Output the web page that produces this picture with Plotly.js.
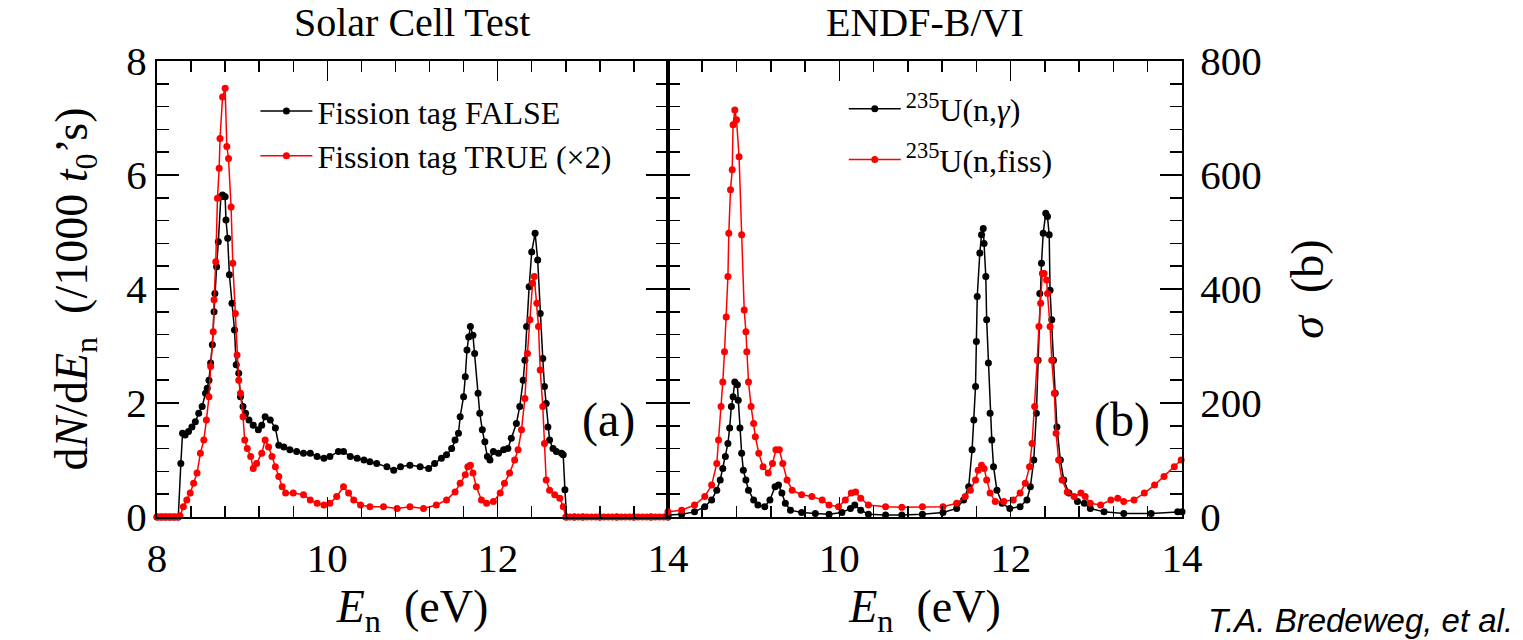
<!DOCTYPE html>
<html>
<head>
<meta charset="utf-8">
<script src="https://cdn.plot.ly/plotly-3.0.1.min.js"></script>
<style>html,body{margin:0;padding:0;background:#fff;}#chart{width:1523px;height:640px;}</style>
</head>
<body>
<div id="chart"></div>
<script>
// ---- Panel (a): Solar Cell Test ----
const falseE = [8.00,8.05,8.10,8.15,8.20,8.25,8.28,8.30,8.33,8.37,8.41,8.45,8.49,8.53,8.57,8.59,8.61,8.63,8.65,8.67,8.68,8.70,8.72,8.75,8.77,8.80,8.81,8.83,8.85,8.88,8.91,8.93,8.96,8.98,9.01,9.04,9.08,9.13,9.19,9.23,9.27,9.33,9.39,9.43,9.49,9.56,9.64,9.72,9.80,9.88,9.96,10.03,10.13,10.19,10.27,10.35,10.43,10.50,10.58,10.70,10.78,10.86,10.97,11.09,11.19,11.26,11.34,11.40,11.46,11.50,11.54,11.56,11.60,11.62,11.64,11.66,11.68,11.71,11.73,11.77,11.79,11.82,11.85,11.88,11.91,11.95,12.01,12.07,12.12,12.16,12.22,12.26,12.30,12.32,12.34,12.37,12.40,12.44,12.47,12.50,12.53,12.55,12.57,12.59,12.61,12.65,12.69,12.75,12.77,12.79,12.81,12.90,13.00,13.20,13.40,13.60,13.80,14.00];
const falseY = [0,0,0,0,0,0,0.94,1.47,1.44,1.50,1.58,1.67,1.82,1.94,2.17,2.26,2.40,2.70,3.02,3.60,3.92,4.39,4.83,5.62,5.65,5.62,5.21,4.89,4.25,3.75,3.28,2.67,2.52,2.11,1.94,1.82,1.70,1.61,1.53,1.61,1.76,1.70,1.56,1.26,1.23,1.18,1.15,1.12,1.12,1.06,1.03,1.06,1.15,1.15,1.06,1.03,1.00,0.97,0.94,0.88,0.82,0.88,0.91,0.88,0.85,0.94,1.03,1.09,1.20,1.35,1.47,1.76,2.11,2.46,2.93,3.16,3.34,3.19,2.87,2.17,1.82,1.53,1.32,1.06,1.00,1.15,1.12,1.18,1.20,1.38,1.64,1.94,2.40,2.75,3.34,4.04,4.65,4.98,4.51,3.57,2.78,2.29,1.99,1.58,1.35,1.20,1.15,1.12,1.09,0.48,0,0,0,0,0,0,0,0];

const trueE = [8.000,8.025,8.050,8.075,8.100,8.125,8.150,8.175,8.200,8.225,8.250,8.27,8.31,8.35,8.39,8.43,8.47,8.51,8.55,8.58,8.61,8.63,8.66,8.67,8.69,8.71,8.73,8.74,8.77,8.80,8.82,8.84,8.87,8.89,8.92,8.94,8.96,8.98,9.01,9.03,9.06,9.10,9.13,9.17,9.23,9.27,9.31,9.35,9.39,9.43,9.47,9.51,9.60,9.72,9.80,9.88,9.96,10.03,10.11,10.19,10.25,10.31,10.39,10.50,10.66,10.82,10.97,11.13,11.28,11.40,11.50,11.56,11.62,11.65,11.68,11.71,11.75,11.81,11.87,11.95,12.03,12.08,12.14,12.20,12.24,12.28,12.32,12.35,12.38,12.41,12.43,12.46,12.48,12.50,12.53,12.55,12.57,12.61,12.67,12.73,12.77,12.80,12.85,12.90,12.95,13.00,13.05,13.10,13.15,13.20,13.25,13.30,13.35,13.40,13.45,13.50,13.55,13.60,13.65,13.70,13.75,13.80,13.85,13.90,13.95,14.00];
const trueY = [0,0,0,0,0,0,0,0,0,0,0,0.02,0.18,0.30,0.42,0.59,0.77,1.12,1.35,1.70,2.11,2.64,3.25,3.81,4.48,5.59,6.12,6.64,7.37,7.52,6.50,6.29,5.44,4.45,3.57,2.84,2.40,2.17,1.76,1.35,1.20,1.06,0.85,0.94,1.12,1.35,1.23,1.06,0.88,0.71,0.53,0.42,0.42,0.39,0.30,0.24,0.21,0.24,0.36,0.53,0.42,0.30,0.21,0.18,0.18,0.15,0.18,0.15,0.21,0.30,0.44,0.59,0.74,0.88,0.91,0.77,0.53,0.30,0.24,0.27,0.42,0.59,0.77,1.00,1.18,1.53,2.08,2.87,3.46,4.10,4.22,3.75,3.34,2.58,1.94,1.29,0.65,0.47,0.39,0.33,0.18,0,0,0,0,0,0,0,0,0,0,0,0,0,0,0,0,0,0,0,0,0,0,0,0,0];

// ---- Panel (b): ENDF-B/VI cross sections (barn) ----
const gammaE = [8.00,8.16,8.31,8.43,8.51,8.57,8.61,8.64,8.67,8.70,8.72,8.74,8.76,8.78,8.81,8.82,8.84,8.86,8.88,8.91,8.94,9.00,9.05,9.13,9.19,9.25,9.29,9.33,9.37,9.43,9.56,9.72,9.88,10.03,10.13,10.18,10.25,10.34,10.54,10.73,10.97,11.21,11.37,11.45,11.51,11.55,11.57,11.59,11.60,11.61,11.64,11.66,11.68,11.69,11.71,11.72,11.74,11.76,11.78,11.80,11.84,11.90,11.99,12.11,12.19,12.23,12.27,12.30,12.32,12.34,12.36,12.38,12.41,12.43,12.45,12.46,12.48,12.50,12.52,12.54,12.58,12.62,12.68,12.78,12.86,12.93,13.09,13.32,13.64,13.95,14.00];
const gammaY = [3.5,5,9,18,30,47,65,85,106,129,156,194,211,237,232,205,156,112,82,65,47,30,21,18,30,53,56,42,24,12,8,6,5,8,15,21,12,5,3.5,3.5,5,8,15,30,53,118,170,229,308,387,463,495,506,480,422,346,270,182,135,88,47,24,15,18,30,53,100,182,275,392,445,498,533,527,495,398,346,275,217,158,100,65,42,27,24,15,9,6,6,9,9];

const fissE = [8.00,8.16,8.31,8.43,8.51,8.57,8.59,8.62,8.64,8.66,8.68,8.70,8.71,8.73,8.75,8.76,8.78,8.80,8.83,8.86,8.89,8.91,8.92,8.94,8.97,9.00,9.02,9.06,9.11,9.17,9.22,9.26,9.30,9.34,9.39,9.45,9.56,9.68,9.80,9.88,9.99,10.07,10.14,10.19,10.25,10.34,10.54,10.73,10.97,11.21,11.37,11.47,11.53,11.59,11.62,11.66,11.69,11.72,11.76,11.82,11.92,12.03,12.11,12.17,12.22,12.25,12.28,12.31,12.33,12.35,12.37,12.39,12.42,12.43,12.46,12.48,12.51,12.53,12.56,12.60,12.66,12.74,12.82,12.87,12.93,13.05,13.17,13.25,13.32,13.44,13.56,13.68,13.79,13.91,13.99];
const fissY = [9,12,21,36,56,94,135,194,237,290,351,422,498,574,609,688,714,697,632,495,363,325,290,237,194,164,141,112,88,77,94,118,118,94,65,47,39,36,30,21,18,30,42,44,33,21,18,17,18,18,24,36,47,65,82,91,85,65,42,27,27,30,42,59,88,129,194,275,334,375,427,427,416,392,334,275,217,147,100,65,44,36,42,36,24,21,30,33,27,30,42,56,71,88,100];

const xTickVals = [8,10,12,14];
const xTickTextA = ['8','10','12','14'];
const xTickTextB = ['','10','12','14'];

const SERIF = "Liberation Serif, Times New Roman, Times, serif";
const SANS = "Liberation Sans, Arial, Helvetica, sans-serif";

function series(x, y, color, name, xa, ya, leg, grp) {
  return {
    x: x, y: y, type: 'scatter', mode: 'lines+markers', name: name,
    xaxis: xa, yaxis: ya, legend: leg, legendgroup: grp, cliponaxis: false,
    line: {color: color, width: 1.5},
    marker: {color: color, size: 7, symbol: 'circle'}
  };
}

const data = [
  series(falseE, falseY, '#000000', 'Fission tag FALSE', 'x', 'y', 'legend', 'a1'),
  series(trueE, trueY, '#ff0000', 'Fission tag TRUE (\u00d72)', 'x', 'y', 'legend', 'a2'),
  series(gammaE, gammaY, '#000000', '<sup>235</sup>U(n,<i>\u03b3</i>)', 'x2', 'y2', 'legend2', 'b1'),
  series(fissE, fissY, '#ff0000', '<sup>235</sup>U(n,fiss)', 'x2', 'y2', 'legend2', 'b2')
];

function xAxis(domain, anchor, ticktext) {
  return {
    domain: domain, anchor: anchor, range: [8, 14],
    tickmode: 'array', tickvals: xTickVals, ticktext: ticktext,
    ticks: 'inside', ticklen: 20, tickwidth: 1.5, tickcolor: '#000',
    minor: {tickmode: 'linear', tick0: 8, dtick: 0.4, ticks: 'inside', ticklen: 11, tickwidth: 1.5, tickcolor: '#000'},
    showline: true, linecolor: '#000', linewidth: 2, mirror: 'ticks',
    showgrid: false, zeroline: false,
    tickfont: {family: SERIF, size: 41, color: '#000'},
    ticklabelstandoff: 4,
    title: {text: '<i>E</i><sub>n</sub>  (eV)', font: {family: SERIF, size: 46, color: '#000'}, standoff: 10}
  };
}

const layout = {
  width: 1523, height: 640,
  paper_bgcolor: '#fff', plot_bgcolor: '#fff',
  margin: {l: 157, r: 341, t: 61, b: 123},
  showlegend: true,
  xaxis: xAxis([0, 0.4985], 'y', xTickTextA),
  xaxis2: xAxis([0.4985, 1], 'y2', xTickTextB),
  yaxis: {
    domain: [0, 1], anchor: 'x', range: [0, 8], dtick: 2, tick0: 0,
    ticks: 'inside', ticklen: 22, tickwidth: 1.5, tickcolor: '#000',
    minor: {tickmode: 'linear', tick0: 0, dtick: 0.4, ticks: 'inside', ticklen: 12, tickwidth: 1.5, tickcolor: '#000'},
    showline: true, linecolor: '#000', linewidth: 2, mirror: 'ticks',
    showgrid: false, zeroline: false,
    tickfont: {family: SERIF, size: 41, color: '#000'},
    ticklabelstandoff: 0,
    title: {text: 'd<i>N</i>/d<i>E</i><sub>n</sub>  (/1000 <i>t</i><sub>0</sub>\u2019s)', font: {family: SERIF, size: 46, color: '#000'}, standoff: 24}
  },
  yaxis2: {
    domain: [0, 1], anchor: 'x2', side: 'right', range: [0, 800], dtick: 200, tick0: 0,
    ticks: 'inside', ticklen: 22, tickwidth: 1.5, tickcolor: '#000',
    minor: {tickmode: 'linear', tick0: 0, dtick: 40, ticks: 'inside', ticklen: 12, tickwidth: 1.5, tickcolor: '#000'},
    showline: true, linecolor: '#000', linewidth: 2, mirror: 'ticks',
    showgrid: false, zeroline: false,
    tickfont: {family: SERIF, size: 41, color: '#000'},
    ticklabelstandoff: 8,
    title: {text: '<i>\u03c3</i>  (b)', font: {family: SERIF, size: 46, color: '#000'}, standoff: 30}
  },
  legend: {
    x: 0.096, y: 0.95, xref: 'paper', yref: 'paper', xanchor: 'left', yanchor: 'top',
    bgcolor: 'rgba(0,0,0,0)', borderwidth: 0, traceorder: 'normal',
    font: {family: SERIF, size: 32, color: '#000'}, itemwidth: 52, tracegroupgap: 0
  },
  legend2: {
    x: 0.67, y: 0.955, xref: 'paper', yref: 'paper', xanchor: 'left', yanchor: 'top',
    bgcolor: 'rgba(0,0,0,0)', borderwidth: 0, traceorder: 'grouped',
    font: {family: SERIF, size: 32, color: '#000'}, itemwidth: 52, tracegroupgap: 6
  },
  annotations: [
    {text: 'Solar Cell Test', xref: 'paper', yref: 'paper', x: 0.2488, y: 1.0855, xanchor: 'center', yanchor: 'middle', showarrow: false, font: {family: SERIF, size: 40, color: '#000'}},
    {text: 'ENDF-B/VI', xref: 'paper', yref: 'paper', x: 0.749, y: 1.0855, xanchor: 'center', yanchor: 'middle', showarrow: false, font: {family: SERIF, size: 40, color: '#000'}},
    {text: '(a)', xref: 'paper', yref: 'paper', x: 0.44, y: 0.2127, xanchor: 'center', yanchor: 'middle', showarrow: false, font: {family: SERIF, size: 48, color: '#000'}},
    {text: '(b)', xref: 'paper', yref: 'paper', x: 0.9415, y: 0.2127, xanchor: 'center', yanchor: 'middle', showarrow: false, font: {family: SERIF, size: 48, color: '#000'}},
    {text: '<i>T.A. Bredeweg, et al.</i>', xref: 'paper', yref: 'paper', x: 1.3249, y: -0.2259, xanchor: 'right', yanchor: 'middle', showarrow: false, font: {family: SANS, size: 33, color: '#000'}}
  ]
};

Plotly.newPlot('chart', data, layout, {displayModeBar: false, staticPlot: true});
</script>
</body>
</html>
